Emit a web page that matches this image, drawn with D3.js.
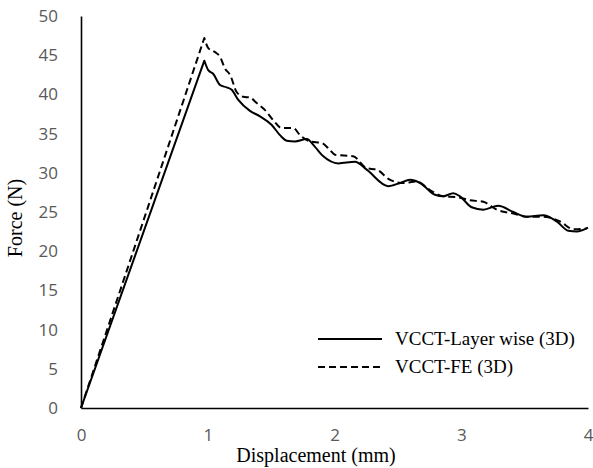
<!DOCTYPE html>
<html>
<head>
<meta charset="utf-8">
<style>
  body { margin: 0; background: #fff; }
  .tick text { fill: #595959; font-family: "Open Sans", "Noto Sans", sans-serif; font-size: 17px; }
  .ttl { font-family: "Liberation Serif", "Times New Roman", serif; fill: #000; }
</style>
</head>
<body>
<div id="chart"></div>
<script src="https://d3js.org/d3.v7.min.js"></script>
<script>
// Displacement (mm) / Force (N)
var layerX = [0, 0.973, 1.004, 1.044, 1.097, 1.149, 1.189, 1.241, 1.333, 1.412, 1.505, 1.570, 1.623, 1.688, 1.781, 1.846, 1.912, 2.030, 2.162, 2.254, 2.424, 2.517, 2.596, 2.675, 2.793, 2.858, 2.937, 2.990, 3.082, 3.174, 3.292, 3.411, 3.516, 3.647, 3.753, 3.845, 3.911, 4.0];
var layerY = [0, 44.3, 43.1, 42.6, 41.2, 40.9, 40.6, 39.3, 37.9, 37.2, 36.1, 34.8, 34.1, 34.0, 34.3, 33.3, 32.1, 31.2, 31.4, 30.4, 28.3, 28.7, 29.1, 28.7, 27.2, 27.0, 27.4, 27.0, 25.6, 25.3, 25.8, 25.0, 24.4, 24.6, 23.8, 22.6, 22.5, 23.0];

var feX = [0, 0.973, 1.004, 1.057, 1.097, 1.136, 1.176, 1.228, 1.280, 1.333, 1.386, 1.452, 1.517, 1.583, 1.675, 1.728, 1.807, 1.899, 1.964, 2.004, 2.148, 2.254, 2.333, 2.438, 2.543, 2.648, 2.753, 2.858, 2.964, 3.069, 3.174, 3.280, 3.411, 3.516, 3.647, 3.779, 3.884, 3.990];
var feY = [0, 47.2, 45.9, 45.4, 44.8, 43.3, 42.5, 40.3, 39.7, 39.6, 38.9, 38.0, 36.7, 35.7, 35.7, 34.8, 34.0, 33.8, 32.9, 32.3, 32.1, 30.6, 30.4, 29.1, 28.7, 28.9, 27.8, 27.0, 26.9, 26.5, 26.3, 25.3, 24.8, 24.4, 24.4, 23.8, 22.8, 22.9];

var xTicks = [0, 1, 2, 3, 4];
var yTicks = [0, 5, 10, 15, 20, 25, 30, 35, 40, 45, 50];
var seriesNames = ["VCCT-Layer wise (3D)", "VCCT-FE (3D)"];

var width = 593, height = 468;
var svg = d3.select('#chart').append('svg')
    .attr('width', width)
    .attr('height', height);

var x = d3.scaleLinear().domain([0, 4]).range([81, 588]);
var y = d3.scaleLinear().domain([0, 50]).range([408, 16]);

// axes
svg.append('g')
    .attr('transform', 'translate(0,408)')
    .call(d3.axisBottom(x).tickValues(xTicks).tickFormat(d3.format('d')).tickSize(0).tickPadding(21));
svg.append('g')
    .attr('transform', 'translate(81,0)')
    .call(d3.axisLeft(y).tickValues(yTicks).tickFormat(d3.format('d')).tickSize(0).tickPadding(23));
svg.selectAll('.domain').attr('stroke', '#000').attr('stroke-width', 1.6);

var line = d3.line()
    .x(function (d) { return x(d[0]); })
    .y(function (d) { return y(d[1]); })
    .curve(d3.curveMonotoneX);
var straight = d3.line()
    .x(function (d) { return x(d[0]); })
    .y(function (d) { return y(d[1]); });

function drawSeries(xs, ys, dash) {
    var pts = xs.map(function (v, i) { return [v, ys[i]]; });
    // linear loading up to the peak, then the smooth softening part
    var d = straight(pts.slice(0, 2)) + line(pts.slice(1)).replace(/^M/, 'L');
    svg.append('path')
        .attr('d', d)
        .attr('fill', 'none')
        .attr('stroke', '#000')
        .attr('stroke-width', 2)
        .attr('stroke-linejoin', 'round')
        .attr('stroke-dasharray', dash);
}
drawSeries(feX, feY, '7,4');
drawSeries(layerX, layerY, null);

// titles
svg.append('text').attr('class', 'ttl')
    .attr('x', 316).attr('y', 462)
    .attr('font-size', 20)
    .attr('text-anchor', 'middle')
    .text('Displacement (mm)');
svg.append('text').attr('class', 'ttl')
    .attr('transform', 'translate(22,218) rotate(-90)')
    .attr('font-size', 20)
    .attr('text-anchor', 'middle')
    .text('Force (N)');

// legend
var legend = svg.append('g');
seriesNames.forEach(function (name, i) {
    var ly = 339 + i * 28;
    legend.append('line')
        .attr('x1', 318).attr('x2', 382)
        .attr('y1', ly).attr('y2', ly)
        .attr('stroke', '#000')
        .attr('stroke-width', 2)
        .attr('stroke-dasharray', i === 1 ? '7,4' : null);
    legend.append('text').attr('class', 'ttl')
        .attr('x', 395).attr('y', ly + 6)
        .attr('font-size', 19)
        .text(name);
});
</script>
</body>
</html>
